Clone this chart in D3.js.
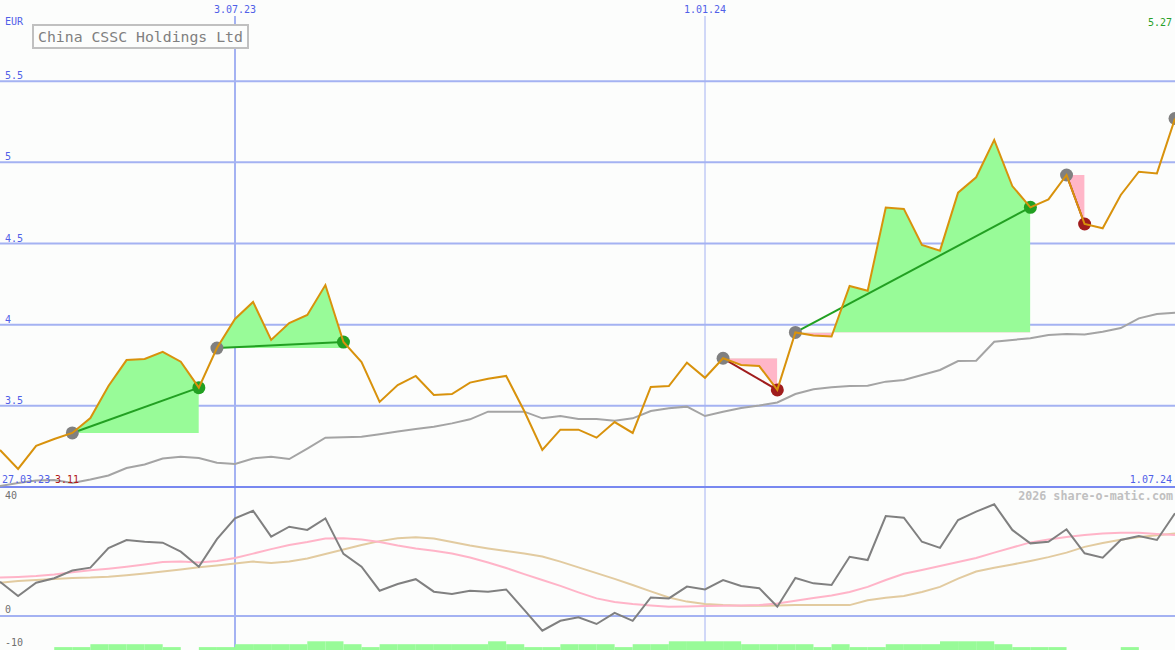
<!DOCTYPE html>
<html>
<head>
<meta charset="utf-8">
<script src="https://cdn.jsdelivr.net/npm/d3@7/dist/d3.min.js"></script>
<style>
html,body{margin:0;padding:0;background:#fcfdfc;}
svg{display:block;}
text{font-family:"DejaVu Sans Mono","Liberation Mono",monospace;}
</style>
</head>
<body>
<script>
// ---------- data ----------
const dates = ["2023-04-03","2023-04-10","2023-04-17","2023-04-24","2023-05-01","2023-05-08","2023-05-15","2023-05-22","2023-05-29",
"2023-06-05","2023-06-12","2023-06-19","2023-06-26","2023-07-03","2023-07-10","2023-07-17","2023-07-24","2023-07-31",
"2023-08-07","2023-08-14","2023-08-21","2023-08-28","2023-09-04","2023-09-11","2023-09-18","2023-09-25",
"2023-10-02","2023-10-09","2023-10-16","2023-10-23","2023-10-30","2023-11-06","2023-11-13","2023-11-20","2023-11-27",
"2023-12-04","2023-12-11","2023-12-18","2023-12-25","2024-01-01","2024-01-08","2024-01-15","2024-01-22","2024-01-29",
"2024-02-05","2024-02-12","2024-02-19","2024-02-26","2024-03-04","2024-03-11","2024-03-18","2024-03-25",
"2024-04-01","2024-04-08","2024-04-15","2024-04-22","2024-04-29","2024-05-06","2024-05-13","2024-05-20","2024-05-27",
"2024-06-03","2024-06-10","2024-06-17","2024-06-24","2024-07-01"];

const price = [3.228,3.111,3.254,3.296,3.333,3.425,3.622,3.782,3.789,3.833,3.772,3.612,3.856,4.035,4.140,3.906,4.010,4.060,
4.244,3.893,3.770,3.524,3.628,3.684,3.567,3.573,3.643,3.667,3.684,3.468,3.228,3.353,3.353,3.304,3.400,3.333,
3.616,3.622,3.766,3.673,3.793,3.752,3.745,3.598,3.952,3.933,3.927,4.238,4.209,4.721,4.713,4.491,4.456,4.813,
4.908,5.138,4.854,4.723,4.772,4.922,4.620,4.594,4.799,4.942,4.932,5.270];

const priceMA = [3.006,3.025,3.040,3.043,3.025,3.046,3.071,3.117,3.139,3.176,3.187,3.179,3.150,3.142,3.176,3.187,3.172,3.237,
3.304,3.306,3.310,3.325,3.342,3.357,3.371,3.392,3.417,3.464,3.464,3.464,3.423,3.437,3.419,3.419,3.408,3.423,
3.468,3.485,3.495,3.437,3.464,3.487,3.502,3.521,3.573,3.602,3.614,3.622,3.624,3.649,3.659,3.690,3.721,3.776,
3.778,3.895,3.906,3.916,3.936,3.943,3.939,3.957,3.979,4.039,4.066,4.074];

const oscMain = [10.7,6.25,10.4,11.8,14.2,15.1,21.2,23.75,23.2,22.9,20.1,15.4,24.0,30.5,32.9,24.8,27.9,26.9,30.5,19.4,
15.4,7.9,10.0,11.5,7.6,6.9,7.9,7.6,8.3,1.9,-4.6,-1.5,-0.4,-2.5,1.0,-1.5,5.8,5.5,9.2,8.3,11.25,9.4,8.7,2.9,
11.9,10.2,9.7,18.5,17.5,31.25,30.7,23.2,21.3,30.0,32.6,34.9,26.9,22.7,23.2,27.1,19.6,18.2,23.75,25.0,23.75,32.1];

const oscPink = [12.0,12.2,12.5,13.0,13.7,14.3,14.8,15.4,16.1,16.9,17.0,16.7,17.2,18.1,19.5,20.9,22.2,23.1,24.2,24.3,
23.9,23.1,22.0,21.1,20.4,19.5,18.3,16.7,15.0,13.1,11.25,9.4,7.4,5.5,4.4,3.75,3.3,2.9,3.0,3.1,3.2,3.3,3.4,3.9,
4.8,5.6,6.4,7.5,9.1,11.25,13.2,14.4,15.6,16.9,18.1,19.8,21.4,23.0,23.9,24.7,25.3,25.8,26.0,26.0,25.6,25.3];

const oscTan = [10.4,10.9,11.25,11.6,11.9,12.0,12.3,12.75,13.3,13.9,14.5,15.2,15.8,16.4,17.0,16.6,17.0,18.0,19.4,20.8,
22.2,23.4,24.3,24.6,24.2,23.1,22.0,21.1,20.3,19.5,18.6,17.0,15.2,13.4,11.6,9.7,7.7,5.8,4.5,3.75,3.4,3.2,3.2,3.25,
3.4,3.4,3.4,3.4,4.9,5.7,6.25,7.5,9.1,11.7,13.9,15.1,16.1,17.2,18.4,19.8,21.6,22.8,23.8,24.7,25.2,25.8];

const barLevels = [0,0,0,1,1,2,2,2,2,1,0,1,1,2,2,2,2,3,3,2,1,2,2,2,2,2,2,3,2,1,1,2,2,2,1,2,2,3,3,3,3,2,2,2,2,1,2,1,1,
2,2,2,3,3,3,2,1,1,1,0,0,0,1,0,0,0];

const signalBuy  = ["2023-05-01","2023-06-26","2024-01-08","2024-02-05","2024-05-20","2024-07-01"];
const signalSell = ["2023-06-19","2023-08-14","2024-01-29","2024-05-06","2024-05-27",null];

const yTicks = [3.5,4,4.5,5,5.5];
const yTickLabels = ["3.5","4","4.5","5","5.5"];
const oscTicks = [40,0,-10];
const oscTickLabels = ["40","0","-10"];
const dateMarks = ["2023-07-03","2024-01-01"];
const dateMarkLabels = ["3.07.23","1.01.24"];
const dateMarkWidths = [2,1];

const title = "China CSSC Holdings Ltd";
const currency = "EUR";
const startLabel = "27.03.23";
const endLabel = "1.07.24";
const minLabel = "3.11";
const lastLabel = "5.27";
const credit = "2026 share-o-matic.com";

// ---------- setup ----------
const W = 1175, H = 650;
const parse = d3.timeParse("%Y-%m-%d");
const D = dates.map(parse);
const idx = {}; dates.forEach((d,i)=>idx[d]=i);

const x = d3.scaleTime().domain([parse("2023-04-03"), parse("2024-07-01")]).range([0, W]);
const y = d3.scaleLinear().domain([3, 6]).range([487, 0]);
const yo = d3.scaleLinear().domain([-10, 40]).range([648, 488]);
const yb = d3.scaleLinear().domain([0, 3]).range([650, 641.3]);

const C = {
  bg:"#fcfdfc", grid:"#a4b2f2", sep:"#7888f0", label:"#5060e8",
  price:"#d8920c", ma:"#a4a4a4", osc:"#808080", pink:"#ffb4c8", tan:"#e2cba0",
  gfill:"#98fb98", pfill:"#ffb6c8", gline:"#22a022", rline:"#a01c1c", gdot:"#808080"
};

const svg = d3.select("body").append("svg").attr("width", W).attr("height", H);
svg.append("rect").attr("width", W).attr("height", H).attr("fill", C.bg);
const defs = svg.append("defs");

// grid: horizontal main
svg.append("g").selectAll("line").data(yTicks).join("line")
  .attr("x1",0).attr("x2",W).attr("y1",d=>y(d)).attr("y2",d=>y(d))
  .attr("stroke",C.grid).attr("stroke-width",2);
// zero line of oscillator
svg.append("line").attr("x1",0).attr("x2",W).attr("y1",yo(0)).attr("y2",yo(0))
  .attr("stroke",C.grid).attr("stroke-width",2);
// vertical date marks
svg.append("g").selectAll("line").data(dateMarks).join("line")
  .attr("x1",d=>x(parse(d))).attr("x2",d=>x(parse(d)))
  .attr("y1",16).attr("y2",H)
  .attr("stroke",C.grid).attr("stroke-width",(d,i)=>dateMarkWidths[i]);
// separator
svg.append("line").attr("x1",0).attr("x2",W).attr("y1",y(3)).attr("y2",y(3))
  .attr("stroke",C.sep).attr("stroke-width",2);

// bottom histogram bars
svg.append("g").selectAll("rect").data(d3.range(D.length-1).filter(i=>barLevels[i]>0)).join("rect")
  .attr("x",i=>x(D[i])).attr("width",i=>x(D[i+1])-x(D[i]))
  .attr("y",i=>yb(barLevels[i])).attr("height",i=>yb(0)-yb(barLevels[i]))
  .attr("fill",C.gfill);

// signal fills
signalBuy.forEach((b,k)=>{
  const s = signalSell[k]; if(!s) return;
  const bi = idx[b], si = idx[s];
  const base = price[bi];
  const pts = d3.range(bi, si+1);
  const area = d3.area().x(i=>x(D[i])).y0(y(base)).y1(i=>y(price[i]));
  const x0 = x(D[bi]), x1 = x(D[si]);
  defs.append("clipPath").attr("id","cg"+k).append("rect")
    .attr("x",x0).attr("width",x1-x0).attr("y",0).attr("height",y(base));
  defs.append("clipPath").attr("id","cp"+k).append("rect")
    .attr("x",x0).attr("width",x1-x0).attr("y",y(base)).attr("height",y(3)-y(base));
  svg.append("path").datum(pts).attr("d",area).attr("fill",C.gfill).attr("clip-path","url(#cg"+k+")");
  svg.append("path").datum(pts).attr("d",area).attr("fill",C.pfill).attr("clip-path","url(#cp"+k+")");
});

// moving average
const lineMain = (arr)=>d3.line().x((d,i)=>x(D[i])).y(d=>y(d))(arr);
const lineOsc = (arr)=>d3.line().x((d,i)=>x(D[i])).y(d=>yo(d))(arr);
svg.append("path").attr("d",lineMain(priceMA)).attr("fill","none").attr("stroke",C.ma).attr("stroke-width",2);

// oscillator lines
svg.append("path").attr("d",lineOsc(oscTan)).attr("fill","none").attr("stroke",C.tan).attr("stroke-width",2);
svg.append("path").attr("d",lineOsc(oscPink)).attr("fill","none").attr("stroke",C.pink).attr("stroke-width",2);
svg.append("path").attr("d",lineOsc(oscMain)).attr("fill","none").attr("stroke",C.osc).attr("stroke-width",2);

// signal lines and dots
signalBuy.forEach((b,k)=>{
  const s = signalSell[k];
  const bi = idx[b];
  if(s){
    const si = idx[s];
    const win = price[si] >= price[bi];
    svg.append("line").attr("x1",x(D[bi])).attr("y1",y(price[bi])).attr("x2",x(D[si])).attr("y2",y(price[si]))
      .attr("stroke",win?C.gline:C.rline).attr("stroke-width",2);
  }
});
signalBuy.forEach((b,k)=>{
  const s = signalSell[k];
  const bi = idx[b];
  svg.append("circle").attr("cx",x(D[bi])).attr("cy",y(price[bi])).attr("r",6.5).attr("fill",C.gdot);
  if(s){
    const si = idx[s];
    const win = price[si] >= price[bi];
    svg.append("circle").attr("cx",x(D[si])).attr("cy",y(price[si])).attr("r",6.5).attr("fill",win?C.gline:C.rline);
  }
});

// price line
svg.append("path").attr("d",lineMain(price)).attr("fill","none").attr("stroke",C.price).attr("stroke-width",2)
  .attr("stroke-linejoin","miter");

// ---------- text ----------
const T = (txt,xx,yy,opt={})=>svg.append("text").text(txt).attr("x",xx).attr("y",yy)
  .attr("font-size",opt.size||10).attr("fill",opt.fill||C.label)
  .attr("text-anchor",opt.anchor||"start").attr("font-weight",opt.weight||"normal");

T(currency,5,25);
yTicks.forEach((v,i)=>T(yTickLabels[i],5,y(v)-2));
dateMarks.forEach((d,i)=>T(dateMarkLabels[i],x(parse(d)),13,{anchor:"middle"}));
T(lastLabel,1172,26,{fill:"#28a028",anchor:"end"});
T(startLabel,2,483);
T(minLabel,55,483,{fill:"#b01818"});
T(endLabel,1172,483,{anchor:"end"});
T(credit,1173,500,{fill:"#c0c0c0",anchor:"end",size:11.7,weight:"bold"});
T(oscTickLabels[0],5,yo(oscTicks[0])+11,{fill:"#707070"});
T(oscTickLabels[1],5,yo(oscTicks[1])-3,{fill:"#707070"});
T(oscTickLabels[2],5,yo(oscTicks[2])-2,{fill:"#707070"});

// title box
svg.append("rect").attr("x",33).attr("y",25).attr("width",215).attr("height",23)
  .attr("fill",C.bg).attr("stroke","#c0c0c0").attr("stroke-width",2);
T(title,38,41.5,{fill:"#808080",size:14.8});
</script>
</body>
</html>
